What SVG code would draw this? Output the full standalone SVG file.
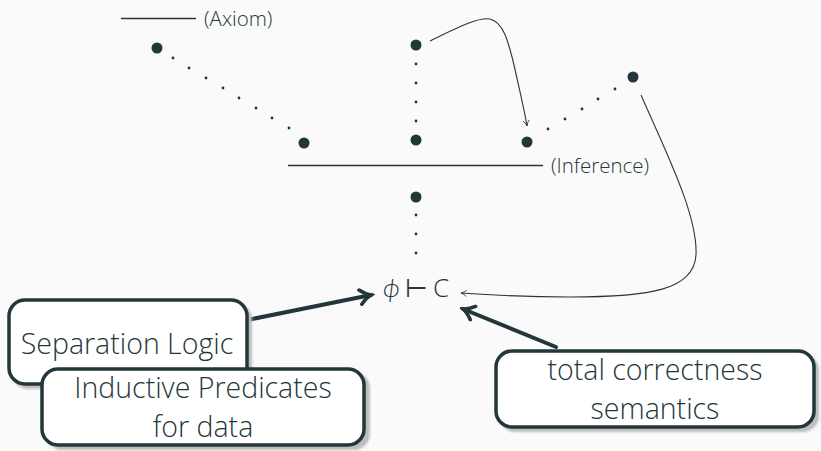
<svg xmlns="http://www.w3.org/2000/svg" width="821" height="451" viewBox="0 0 821 451">
  <style>
    .ink { fill: #23373b; }
    .rule { stroke: #23373b; stroke-width: 1.3; fill: none; }
    .thin { stroke: #23373b; stroke-width: 1.1; fill: none; }
    .thick { stroke: #23373b; stroke-width: 4; fill: none; stroke-linecap: round; }
    .lbl { font-family: "Open Sans", "Lato", sans-serif; font-weight: 300; fill: #23373b; }
    .small { font-size: 20.5px; }
    .big { font-size: 28.5px; }
    .box { fill: #ffffff; stroke: #23373b; stroke-width: 3.5; }
    .shadow { fill: #bdbdbd; }
  </style>
  <defs>
    <marker id="tip" viewBox="0 0 10 10" refX="9" refY="5" markerWidth="8" markerHeight="8" markerUnits="userSpaceOnUse" orient="auto">
      <path d="M2,1 Q5,4 9,5 Q5,6 2,9" fill="none" stroke="#23373b" stroke-width="1"/>
    </marker>
    <marker id="tipBold" viewBox="0 0 10 10" refX="8" refY="5" markerWidth="4.5" markerHeight="4.5" orient="auto">
      <path d="M2,1 Q5,4 8,5 Q5,6 2,9" fill="none" stroke="#23373b" stroke-width="2" stroke-linecap="round"/>
    </marker>
    <filter id="soft" x="-10%" y="-10%" width="120%" height="120%">
      <feGaussianBlur stdDeviation="1"/>
    </filter>
  </defs>

  <rect width="821" height="451" fill="#fafafa"/>

  <!-- proof tree -->
  <g id="axiom">
    <line class="rule" x1="121" y1="18.5" x2="196" y2="18.5"/>
    <text class="lbl small" x="204" y="25.5">(Axiom)</text>
  </g>

  <g id="left-branch">
    <circle class="ink" cx="157" cy="48" r="5.5"/>
    <circle class="ink" cx="173" cy="58" r="1.4"/>
    <circle class="ink" cx="189" cy="68" r="1.4"/>
    <circle class="ink" cx="206" cy="78" r="1.4"/>
    <circle class="ink" cx="223" cy="88" r="1.4"/>
    <circle class="ink" cx="239" cy="98" r="1.4"/>
    <circle class="ink" cx="256" cy="108" r="1.4"/>
    <circle class="ink" cx="272" cy="118" r="1.4"/>
    <circle class="ink" cx="289" cy="128" r="1.4"/>
    <circle class="ink" cx="304" cy="143" r="5.5"/>
  </g>

  <g id="middle-branch">
    <circle class="ink" cx="416" cy="45" r="5.5"/>
    <circle class="ink" cx="416" cy="64" r="1.4"/>
    <circle class="ink" cx="416" cy="83" r="1.4"/>
    <circle class="ink" cx="416" cy="102" r="1.4"/>
    <circle class="ink" cx="416" cy="121" r="1.4"/>
    <circle class="ink" cx="416" cy="140" r="5.5"/>
  </g>

  <g id="right-branch">
    <circle class="ink" cx="527" cy="142" r="5.5"/>
    <circle class="ink" cx="548" cy="129" r="1.4"/>
    <circle class="ink" cx="565" cy="119" r="1.4"/>
    <circle class="ink" cx="582" cy="109" r="1.4"/>
    <circle class="ink" cx="598" cy="99" r="1.4"/>
    <circle class="ink" cx="615" cy="89" r="1.4"/>
    <circle class="ink" cx="633" cy="77" r="5.5"/>
  </g>

  <g id="inference">
    <line class="rule" x1="288" y1="165.5" x2="543" y2="165.5"/>
    <text class="lbl small" x="551" y="172.5">(Inference)</text>
  </g>

  <g id="conclusion-chain">
    <circle class="ink" cx="416" cy="197" r="5.5"/>
    <circle class="ink" cx="416" cy="215" r="1.4"/>
    <circle class="ink" cx="416" cy="234" r="1.4"/>
    <circle class="ink" cx="416" cy="253" r="1.4"/>
  </g>

  <g id="judgement">
    <text class="lbl" x="383" y="297" font-size="26" font-style="italic">ϕ</text>
    <text class="lbl" x="405" y="297" font-size="26">⊢</text>
    <text class="lbl" x="433" y="297" font-size="26">C</text>
  </g>

  <!-- connectors -->
  <g id="connectors">
    <path class="thin" d="M430,41 C462,25 480,17 490,19 C503,22 508,40 514,65 C519,88 524,108 527,126" marker-end="url(#tip)"/>
    <path class="thin" d="M641,95 C665,150 698,215 696,255 C694,290 650,297 570,297 C520,297 490,295 461,293" marker-end="url(#tip)"/>
    <path class="thick" d="M247,320 L371,295" marker-end="url(#tipBold)"/>
    <path class="thick" d="M556,347 L463,309" marker-end="url(#tipBold)"/>
  </g>

  <!-- annotation boxes -->
  <g id="separation-logic">
    <rect class="shadow" x="12" y="303" width="240" height="86" rx="16" filter="url(#soft)"/>
    <rect class="box" x="9" y="300" width="238" height="84" rx="16"/>
    <text class="lbl big" x="127" y="354" text-anchor="middle">Separation Logic</text>
  </g>

  <g id="inductive-predicates">
    <rect class="shadow" x="46" y="372" width="324" height="78" rx="16" filter="url(#soft)"/>
    <rect class="box" x="42" y="369" width="322" height="76" rx="16"/>
    <text class="lbl big" x="203" y="398" text-anchor="middle">Inductive Predicates</text>
    <text class="lbl big" x="203" y="437" text-anchor="middle">for data</text>
  </g>

  <g id="total-correctness">
    <rect class="shadow" x="499" y="354" width="320" height="78" rx="16" filter="url(#soft)"/>
    <rect class="box" x="496" y="351" width="318" height="76" rx="16"/>
    <text class="lbl big" x="655" y="380" text-anchor="middle">total correctness</text>
    <text class="lbl big" x="655" y="419" text-anchor="middle">semantics</text>
  </g>
</svg>
